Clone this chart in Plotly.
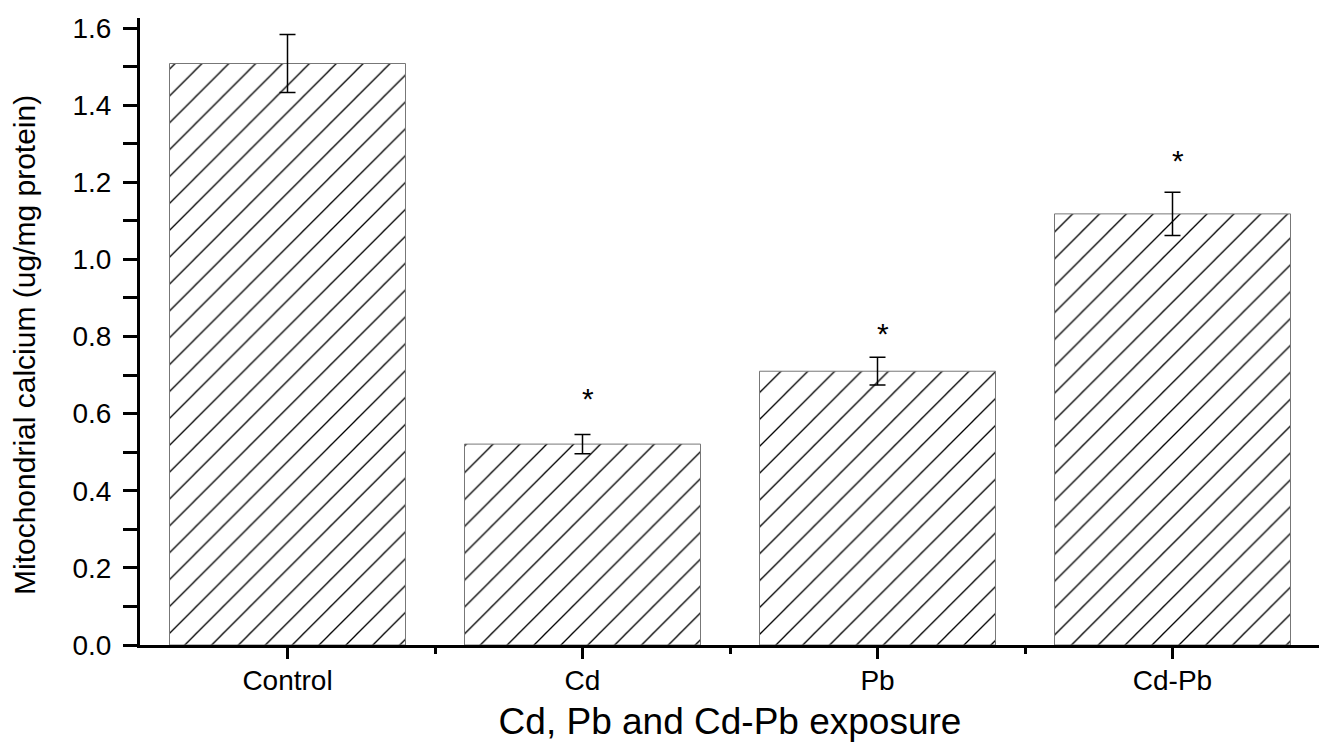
import plotly.graph_objects as go

categories = ["Control", "Cd", "Pb", "Cd-Pb"]
means = [1.508, 0.521, 0.710, 1.118]
errors = [0.075, 0.025, 0.036, 0.056]
star_labels = ["", "*", "*", "*"]
star_levels = [None, 0.640, 0.808, 1.257]
y_ticks = [0.0, 0.2, 0.4, 0.6, 0.8, 1.0, 1.2, 1.4, 1.6]

x_pos = list(range(len(categories)))

fig = go.Figure()
fig.add_trace(go.Bar(
    x=x_pos, y=means, width=0.8,
    marker=dict(
        color="white",
        line=dict(color="#777777", width=1),
        pattern=dict(shape="/", fgcolor="black", bgcolor="white",
                     size=19, solidity=0.07, fillmode="replace"),
    ),
    error_y=dict(type="data", array=errors, visible=True,
                 color="black", thickness=1.5, width=8),
    showlegend=False,
))

for xi, lab, lvl in zip(x_pos, star_labels, star_levels):
    if lvl is None:
        continue
    fig.add_annotation(x=xi + 0.017, y=lvl, text=lab, showarrow=False,
                       xref="x", yref="y", yanchor="middle",
                       font=dict(family="Liberation Sans, Arial", size=30, color="black"))

fig.add_annotation(
    text="Mitochondrial calcium (ug/mg protein)",
    xref="paper", yref="paper", x=-0.098, y=0.479,
    xanchor="center", yanchor="middle", textangle=-90, showarrow=False,
    font=dict(family="Liberation Sans Narrow, Liberation Sans, Arial", size=30, color="black"),
)

fig.update_layout(
    width=1319, height=734,
    paper_bgcolor="white", plot_bgcolor="white",
    margin=dict(l=132, r=7, t=5, b=94),
    font=dict(family="Liberation Sans, Arial", color="black"),
    bargap=0.2,
    xaxis=dict(
        range=[-0.5, 3.5],
        tickmode="array", tickvals=x_pos, ticktext=categories,
        ticks="outside", ticklen=11, tickwidth=3, tickcolor="black",
        showline=True, linecolor="black", linewidth=3,
        showgrid=False, zeroline=False,
        tickfont=dict(size=28, color="black"),
        ticklabelstandoff=-3,
        minor=dict(tickmode="array", tickvals=[0.5, 1.5, 2.5, 3.5],
                   ticks="outside", ticklen=6, tickwidth=3, tickcolor="black"),
        title=dict(text="Cd, Pb and Cd-Pb exposure",
                   font=dict(size=37, color="black"), standoff=16),
    ),
    yaxis=dict(
        range=[0, 1.626],
        tickmode="array", tickvals=y_ticks,
        ticktext=[f"{v:.1f}" for v in y_ticks],
        ticks="outside", ticklen=14, tickwidth=3, tickcolor="black",
        showline=True, linecolor="black", linewidth=3,
        showgrid=False, zeroline=False,
        tickfont=dict(size=28, color="black"),
        ticklabelstandoff=6,
        ticklabeloverflow="allow",
        minor=dict(dtick=0.1, tick0=0, ticks="outside", ticklen=14,
                   tickwidth=3, tickcolor="black"),
    ),
)

fig.write_html("out.html")
